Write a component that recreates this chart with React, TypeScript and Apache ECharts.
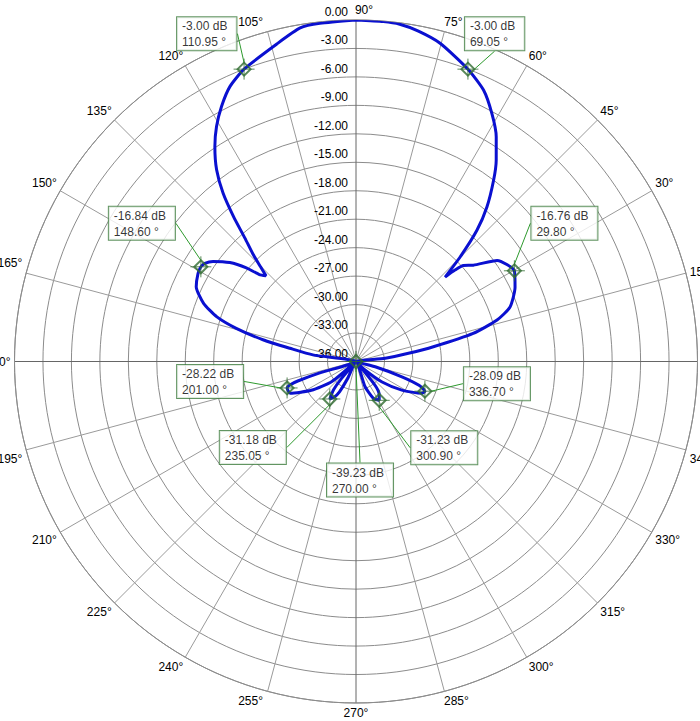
import React, { useEffect, useRef } from "react";
import * as echarts from "echarts";

// Pattern readings (angle in degrees, gain in dB), listed along the trace.
const ANGLES_DEG = [
  90, 96.1, 99.5, 104, 110.95, 114.6, 117.8, 120.7, 123.3, 126, 128.3, 130.2, 132, 133.8, 135.2, 136.4,
  138, 139.5, 141.9, 145, 147, 148.6, 151, 154.9, 159.1, 162.2, 164.5, 166.9, 168.7, 171.3, 173.5,
  196.5, 197.5, 198.5, 199.5, 201, 205.7, 212.8, 219.7, 224.5,
  227.5, 229.5, 231.5, 235.05, 238.5, 241.5, 244, 246.5, 270,
  287.5, 289.7, 295.2, 300.9, 305.5, 308.9, 311.5,
  314, 316.6, 321.8, 328, 334.2, 336.7, 339.3, 341.6, 344.7, 346.5,
  5, 6.3, 8.9, 10.8, 13.5, 16.4, 19.4, 25, 29.8, 35.6, 39.4, 41.8, 42.75, 43.45,
  45.1, 47.34, 49.73, 52.8, 55.14, 58.03, 61.3, 64.84, 69.05, 75.2, 79.3, 82.6, 85.4, 90,
];
const GAIN_DB = [
  0, -0.15, -0.35, -1.5, -3.0, -4.1, -5.6, -7.2, -8.9, -11.0, -13.4, -16.0, -18.5, -20.3, -21.8, -22.9,
  -22.3, -20.8, -19.1, -17.6, -17.0, -16.84, -16.95, -17.4, -18.8, -20.6, -22.9, -26.0, -28.9, -31.4, -36,
  -36, -32.0, -29.6, -28.6, -28.22, -28.3, -30.4, -32.7, -36,
  -36, -33.6, -32.2, -31.18, -31.6, -32.4, -34.0, -36, -39.23,
  -36, -33.2, -31.7, -31.23, -31.8, -33.0, -36,
  -36, -34.7, -32.5, -30.3, -28.3, -28.09, -28.9, -30.9, -33.9, -36,
  -36, -32.9, -30.4, -27.7, -23.3, -20.5, -18.8, -17.5, -16.76, -17.7, -20.0, -20.8, -21.8, -23.06,
  -20.45, -17.19, -14.65, -12.01, -10.14, -8.08, -6.18, -4.38, -3.0, -1.3, -0.56, -0.15, -0.05, 0,
];

// Marked points (callouts)
const MARKER_ANGLES_DEG = [110.95, 69.05, 148.6, 29.8, 201.0, 336.7, 235.05, 300.9, 270.0];
const MARKER_GAIN_DB = [-3.0, -3.0, -16.84, -16.76, -28.22, -28.09, -31.18, -31.23, -39.23];

// Axis settings
const RADIUS_MIN_DB = -36;
const RADIUS_MAX_DB = 0;
const RADIUS_STEP_DB = 3;
const ANGLE_MIN_DEG = 90;
const ANGLE_MAX_DEG = 450;
const ANGLE_STEP_DEG = 15;

// Callout box offsets (box top-left relative to its marker, px)
const CALLOUT_OFFSETS = [
  [-67, -52], [-3, -52], [-92, -60], [17, -64], [-110, -23], [39, -24], [-110, 32], [32, 31], [-29, 102],
];

// Per-label nudges for the angle tick labels: [top, right, bottom, left] padding
const ANGLE_LABEL_PADDING: Record<number, number[]> = {
  75: [0, 0, 0, 16],
  90: [0, 0, 0, 16],
  105: [0, 32, 0, 0],
  165: [0, 0, 19, 0],
  195: [16, 0, 0, 0],
  255: [0, 32, 0, 0],
  285: [0, 0, 0, 22],
  345: [16, 0, 0, 0],
};

const FONT = '"Liberation Sans", Arial, Helvetica, sans-serif';
const DIAMOND_SYMBOL = "path://M6.5,0L13,6.5L6.5,13L0,6.5Z";
const CROSS_SYMBOL = "path://M0,10.5L21,10.5M10.5,0L10.5,21";

function axisAngle(a: number, last: boolean): number {
  return a < ANGLE_MIN_DEG || (last && a === ANGLE_MIN_DEG) ? a + 360 : a;
}

export default function App() {
  const ref = useRef<HTMLDivElement>(null);

  useEffect(() => {
    if (!ref.current) return;
    const chart = echarts.init(ref.current, null, { renderer: "svg" });
    const n = ANGLES_DEG.length;
    const curve = ANGLES_DEG.map((a, i) => [
      Math.max(GAIN_DB[i], RADIUS_MIN_DB),
      axisAngle(a, i === n - 1),
    ]);
    const markers = MARKER_ANGLES_DEG.map((a, i) => [
      Math.max(MARKER_GAIN_DB[i], RADIUS_MIN_DB),
      axisAngle(a, false),
    ]);

    const spokeColors = ["#666666", "#9a9a9a", "#9a9a9a", "#9a9a9a", "#9a9a9a", "#9a9a9a"];

    const baseText = { fontSize: 12, fontFamily: FONT, color: "#000" };
    const rich: Record<string, any> = { n: { ...baseText } };
    Object.keys(ANGLE_LABEL_PADDING).forEach((k) => {
      rich["a" + k] = { ...baseText, padding: ANGLE_LABEL_PADDING[Number(k)] };
    });

    chart.setOption({
      animation: false,
      backgroundColor: "#ffffff",
      polar: { center: [356, 361.5], radius: 341.5 },
      angleAxis: {
        type: "value",
        min: ANGLE_MIN_DEG,
        max: ANGLE_MAX_DEG,
        interval: ANGLE_STEP_DEG,
        startAngle: 90,
        clockwise: false,
        axisLine: { show: true, lineStyle: { color: "#8c8c8c", width: 1 } },
        axisTick: { show: false },
        axisLabel: {
          show: true,
          margin: 4,
          ...baseText,
          rich,
          formatter: (v: number) => {
            const d = Math.round(v) % 360;
            const key = ANGLE_LABEL_PADDING[d] ? "a" + d : "n";
            return `{${key}|${d}°}`;
          },
        },
        splitLine: { show: true, lineStyle: { color: spokeColors, width: 1 } },
      },
      radiusAxis: {
        type: "value",
        min: RADIUS_MIN_DB,
        max: RADIUS_MAX_DB,
        interval: RADIUS_STEP_DB,
        axisLine: { show: false },
        axisTick: { show: false },
        axisLabel: {
          ...baseText,
          margin: 8,
          verticalAlign: "bottom",
          padding: [0, 0, 2, 0],
          formatter: (v: number) => v.toFixed(2),
        },
        splitLine: { show: true, lineStyle: { color: "#8c8c8c", width: 1 } },
      },
      series: [
        {
          type: "line",
          coordinateSystem: "polar",
          data: curve,
          symbol: "none",
          showSymbol: false,
          silent: true,
          smooth: 0.2,
          z: 3,
          lineStyle: { color: "#0a10d0", width: 3 },
        },
        {
          type: "scatter",
          coordinateSystem: "polar",
          data: markers,
          symbol: CROSS_SYMBOL,
          symbolSize: 21,
          silent: true,
          z: 4,
          itemStyle: { color: "rgba(0,0,0,0)", borderColor: "#2f6b2f", borderWidth: 1 },
        },
        {
          type: "scatter",
          coordinateSystem: "polar",
          data: markers,
          symbol: DIAMOND_SYMBOL,
          symbolSize: 13,
          z: 5,
          itemStyle: { color: "rgba(0,0,0,0)", borderColor: "#2f6b2f", borderWidth: 2 },
          label: {
            show: true,
            position: "inside",
            align: "left",
            verticalAlign: "top",
            ...baseText,
            lineHeight: 16,
            backgroundColor: "#ffffff",
            borderColor: "#3b7a3b",
            borderWidth: 1,
            padding: [1, 9, 0, 5],
            formatter: (p: any) =>
              `${MARKER_GAIN_DB[p.dataIndex].toFixed(2)} dB\n${MARKER_ANGLES_DEG[p.dataIndex].toFixed(2)} °`,
          },
          labelLine: { show: true, lineStyle: { color: "#2e9a2e", width: 1 } },
          labelLayout: (p: any) => ({
            dx: CALLOUT_OFFSETS[p.dataIndex][0],
            dy: CALLOUT_OFFSETS[p.dataIndex][1],
          }),
        },
      ],
    });

    return () => chart.dispose();
  }, []);

  return (
    <div
      ref={ref}
      style={{ position: "fixed", left: 0, top: 0, width: 700, height: 721, background: "#fff" }}
    />
  );
}
